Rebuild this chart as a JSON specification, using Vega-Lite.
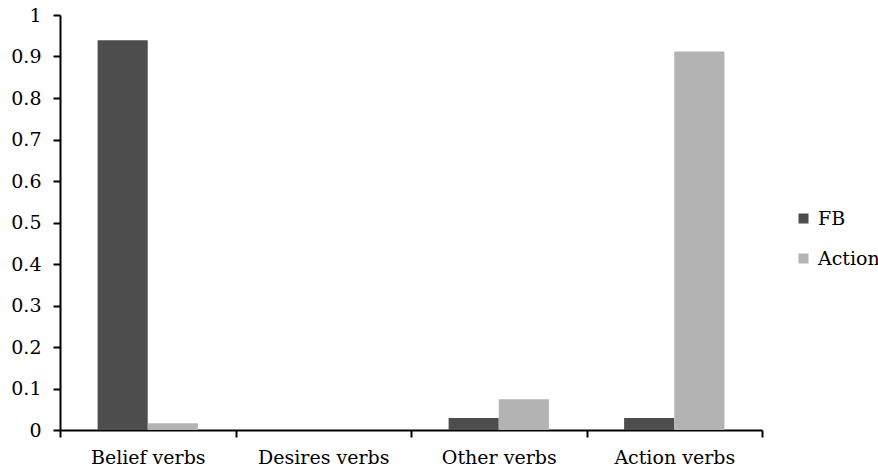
{
  "$schema": "https://vega.github.io/schema/vega-lite/v6.json",
  "width": 702,
  "height": 415,
  "autosize": "none",
  "padding": {"left": 60, "top": 15, "right": 116, "bottom": 43},
  "background": "white",
  "config": {
    "font": "DejaVu Serif",
    "view": {"stroke": null},
    "axis": {"grid": false, "domainColor": "black", "domainWidth": 2, "tickColor": "black", "tickWidth": 2, "tickSize": 7, "labelColor": "black", "labelFont": "DejaVu Serif", "labelFontSize": 19, "title": null}
  },
  "data": {
    "values": [
      {"category": "Belief verbs", "series": "FB", "value": 0.939},
      {"category": "Belief verbs", "series": "Action", "value": 0.016},
      {"category": "Desires verbs", "series": "FB", "value": 0},
      {"category": "Desires verbs", "series": "Action", "value": 0},
      {"category": "Other verbs", "series": "FB", "value": 0.029},
      {"category": "Other verbs", "series": "Action", "value": 0.074},
      {"category": "Action verbs", "series": "FB", "value": 0.029},
      {"category": "Action verbs", "series": "Action", "value": 0.912}
    ]
  },
  "mark": {"type": "bar"},
  "encoding": {
    "x": {
      "field": "category",
      "type": "nominal",
      "sort": ["Belief verbs", "Desires verbs", "Other verbs", "Action verbs"],
      "scale": {"paddingInner": 0, "paddingOuter": 0},
      "axis": {"labelAngle": 0, "tickBand": "extent", "labelPadding": 11, "title": null}
    },
    "xOffset": {
      "field": "series",
      "type": "nominal",
      "sort": ["FB", "Action"],
      "scale": {"paddingInner": 0, "paddingOuter": 0.75}
    },
    "y": {
      "field": "value",
      "type": "quantitative",
      "scale": {"domain": [0, 1], "nice": false},
      "axis": {"values": [0, 0.1, 0.2, 0.3, 0.4, 0.5, 0.6, 0.7, 0.8, 0.9, 1], "format": "~g", "labelPadding": 12, "title": null}
    },
    "color": {
      "field": "series",
      "type": "nominal",
      "sort": ["FB", "Action"],
      "scale": {"domain": ["FB", "Action"], "range": ["#4d4d4d", "#b3b3b3"]},
      "legend": {
        "title": null,
        "orient": "none",
        "legendX": 734,
        "legendY": 194,
        "padding": 0,
        "symbolType": "square",
        "symbolSize": 100,
        "symbolStrokeWidth": 0,
        "labelFont": "DejaVu Serif",
        "labelFontSize": 19,
        "labelColor": "black",
        "labelOffset": 5,
        "rowPadding": 20
      }
    }
  }
}
